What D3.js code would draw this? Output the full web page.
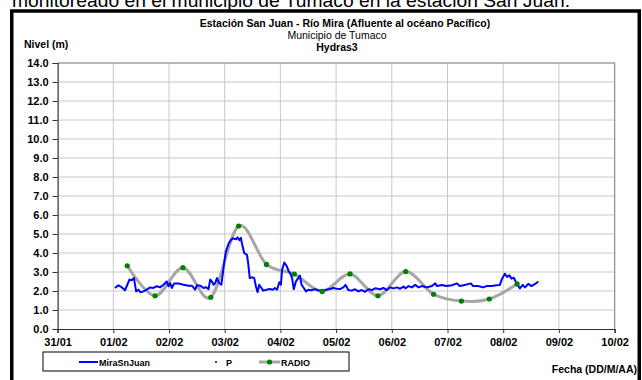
<!DOCTYPE html>
<html><head><meta charset="utf-8">
<script src="https://cdn.jsdelivr.net/npm/d3@7"></script>
<style>
body{margin:0;background:#fff}
svg{display:block}
text{font-family:"Liberation Sans",Arial,sans-serif}
</style>
</head><body>
<svg id="c" width="642" height="380"></svg>
<script>
// ---- data ----
const dateLabels = ["31/01","01/02","02/02","03/02","04/02","05/02","06/02","07/02","08/02","09/02","10/02"];
const levelTicks = [0,1,2,3,4,5,6,7,8,9,10,11,12,13,14];
// MiraSnJuan : time in days after 31/01 00:00, level in m
const miraDays = [1.03,1.09,1.15,1.21,1.24,1.29,1.33,1.37,1.41,1.45,1.49,1.54,1.60,1.66,1.72,1.78,1.84,1.90,1.96,1.99,
  2.02,2.05,2.09,2.17,2.26,2.35,2.41,2.47,2.50,2.56,2.62,2.66,2.71,2.74,2.77,2.80,2.83,2.86,2.90,2.94,
  2.96,2.99,3.02,3.07,3.11,3.15,3.20,3.23,3.26,3.29,3.31,3.35,3.40,3.42,3.45,3.50,3.53,3.56,3.59,3.62,
  3.66,3.69,3.75,3.81,3.87,3.90,3.94,3.98,4.01,4.03,4.07,4.11,4.15,4.18,4.21,4.24,4.28,4.32,4.35,4.38,
  4.42,4.46,4.50,4.56,4.62,4.68,4.74,4.82,4.89,4.95,5.01,5.07,5.13,5.17,5.22,5.28,5.34,5.40,5.46,5.52,
  5.58,5.64,5.70,5.79,5.85,5.91,5.97,6.03,6.09,6.15,6.21,6.25,6.30,6.36,6.42,6.48,6.54,6.63,6.72,6.78,
  6.81,6.90,6.98,7.08,7.17,7.22,7.31,7.42,7.46,7.55,7.64,7.70,7.79,7.88,7.94,7.98,8.03,8.07,8.11,8.15,
  8.19,8.24,8.30,8.35,8.39,8.45,8.51,8.57,8.63];
const miraLevels = [2.16,2.30,2.20,2.04,2.25,2.60,2.57,2.68,1.98,2.07,1.93,1.98,2.07,2.19,2.16,2.25,2.19,2.33,2.50,2.25,
  2.42,2.16,2.39,2.39,2.33,2.28,2.28,2.07,2.30,2.28,2.16,2.20,2.10,2.60,2.50,2.33,2.42,2.68,2.42,2.33,
  2.77,3.47,4.07,4.50,4.68,4.77,4.72,4.82,4.68,4.80,4.50,4.00,3.90,3.50,2.68,2.72,2.68,2.25,1.93,2.33,
  2.16,2.02,2.07,2.10,2.07,2.16,2.07,2.46,2.33,3.12,3.50,3.33,3.03,2.91,2.68,2.10,2.51,2.68,2.81,2.33,
  2.16,1.98,2.07,2.04,2.10,2.04,2.02,2.07,2.10,2.16,2.12,2.10,2.19,2.32,2.05,2.02,2.09,1.98,2.05,1.96,
  2.09,2.05,2.14,2.09,2.16,2.05,2.19,2.14,2.19,2.12,2.23,2.14,2.26,2.19,2.32,2.19,2.26,2.19,2.26,2.40,
  2.26,2.32,2.26,2.30,2.40,2.26,2.32,2.40,2.26,2.26,2.19,2.26,2.26,2.30,2.32,2.65,2.91,2.74,2.82,2.65,
  2.70,2.40,2.14,2.32,2.19,2.37,2.26,2.37,2.49];
// RADIO reports
const radioDays = [1.25,1.75,2.25,2.75,3.25,3.75,4.25,4.75,5.25,5.75,6.25,6.75,7.25,7.75,8.25];
const radioLevels = [3.33,1.75,3.23,1.67,5.42,3.40,2.89,1.98,2.90,1.75,3.02,1.83,1.47,1.58,2.37];
const seriesNames = ["MiraSnJuan","P","RADIO"];

// ---- drawing ----
const svg = d3.select("#c");
const X0 = 57.6, X1 = 614.6, YT = 63, YB = 329;
const x = d3.scaleLinear().domain([0,10]).range([X0,X1]);
const y = d3.scaleLinear().domain([0,14]).range([YB,YT]);

// leading text (cut off by the page top, as in the reference)
svg.append("text").attr("x",12).attr("y",6.5).attr("font-size",18)
  .attr("textLength",558).attr("lengthAdjust","spacingAndGlyphs")
  .text("monitoreado en el municipio de Tumaco en la estación San Juan.");

// outer frame
svg.append("rect").attr("x",11.75).attr("y",11).attr("width",627.5).attr("height",380)
  .attr("fill","none").attr("stroke","#000").attr("stroke-width",3.5);

// grid
const g = svg.append("g");
g.selectAll("line.h").data(levelTicks.slice(1)).join("line")
  .attr("x1",X0).attr("x2",X1).attr("y1",d=>y(d)).attr("y2",d=>y(d))
  .attr("stroke","#c8c8c8").attr("stroke-width",1);
g.selectAll("line.v").data(d3.range(1,dateLabels.length)).join("line")
  .attr("x1",d=>x(d)).attr("x2",d=>x(d)).attr("y1",YT).attr("y2",YB)
  .attr("stroke","#c8c8c8").attr("stroke-width",1);
// top/right border
svg.append("path").attr("d",`M${X0},${YT}H${X1}V${YB}`).attr("fill","none")
  .attr("stroke","#8c8c8c").attr("stroke-width",1.2);

// axes
const ay = svg.append("g").attr("transform",`translate(${X0},0)`)
  .call(d3.axisLeft(y).tickValues(levelTicks).tickFormat(d3.format(".1f")).tickSize(5).tickPadding(4));
const ax = svg.append("g").attr("transform",`translate(0,${YB})`)
  .call(d3.axisBottom(x).tickValues(d3.range(dateLabels.length)).tickFormat(i=>dateLabels[i]).tickSize(4).tickPadding(5));
[ay,ax].forEach(a=>{
  a.select(".domain").attr("stroke","#333").attr("stroke-width",1.2);
  a.selectAll(".tick line").attr("stroke","#333");
  a.selectAll("text").attr("font-family","Liberation Sans, Arial, sans-serif")
    .attr("font-size",11).attr("font-weight","bold").attr("fill","#000");
});

// RADIO smoothed line
const radio = radioDays.map((d,i)=>[d,radioLevels[i]]);
svg.append("path").datum(radio)
  .attr("d",d3.line().x(d=>x(d[0])).y(d=>y(d[1])).curve(d3.curveCardinal.tension(0)))
  .attr("fill","none").attr("stroke","#a6a6a6").attr("stroke-width",3);

// MiraSnJuan line
const mira = miraDays.map((d,i)=>[d,miraLevels[i]]);
svg.append("path").datum(mira)
  .attr("d",d3.line().x(d=>x(d[0])).y(d=>y(d[1])))
  .attr("fill","none").attr("stroke","#0000ff").attr("stroke-width",2).attr("stroke-linejoin","round");

// RADIO markers
svg.selectAll("circle.r").data(radio).join("circle")
  .attr("cx",d=>x(d[0])).attr("cy",d=>y(d[1])).attr("r",2.6).attr("fill","#008000");

// titles
const T = (t,xx,yy,size,bold,anchor="middle")=>svg.append("text").attr("x",xx).attr("y",yy)
  .attr("font-size",size).attr("font-weight",bold?"bold":"normal").attr("text-anchor",anchor).text(t);
T("Estación San Juan  - Río Mira (Afluente al océano Pacífico)",345,27,10.5,true);
T("Municipio de Tumaco",337,39,10.5,false);
T("Hydras3",337,51,10.5,true);
T("Nivel (m)",24,48,10.5,true,"start");
T("Fecha (DD/M/AA)",637,373,10.5,true,"end");

// legend
const lg = svg.append("g");
lg.append("rect").attr("x",43).attr("y",352).attr("width",306).attr("height",19)
  .attr("fill","#fff").attr("stroke","#000").attr("stroke-width",1);
const ly = 362;
lg.append("line").attr("x1",79).attr("x2",98).attr("y1",ly).attr("y2",ly).attr("stroke","#0000ff").attr("stroke-width",2);
lg.append("text").attr("x",99).attr("y",ly+3.5).attr("font-size",9).attr("font-weight","bold").text(seriesNames[0]);
lg.append("rect").attr("x",215).attr("y",ly-1).attr("width",2).attr("height",2).attr("fill","#008000");
lg.append("text").attr("x",226).attr("y",ly+3.5).attr("font-size",9).attr("font-weight","bold").text(seriesNames[1]);
lg.append("line").attr("x1",259).attr("x2",280).attr("y1",ly).attr("y2",ly).attr("stroke","#a6a6a6").attr("stroke-width",3);
lg.append("circle").attr("cx",269.5).attr("cy",ly).attr("r",2.6).attr("fill","#008000");
lg.append("text").attr("x",281).attr("y",ly+3.5).attr("font-size",9).attr("font-weight","bold").text(seriesNames[2]);
</script>
</body></html>
